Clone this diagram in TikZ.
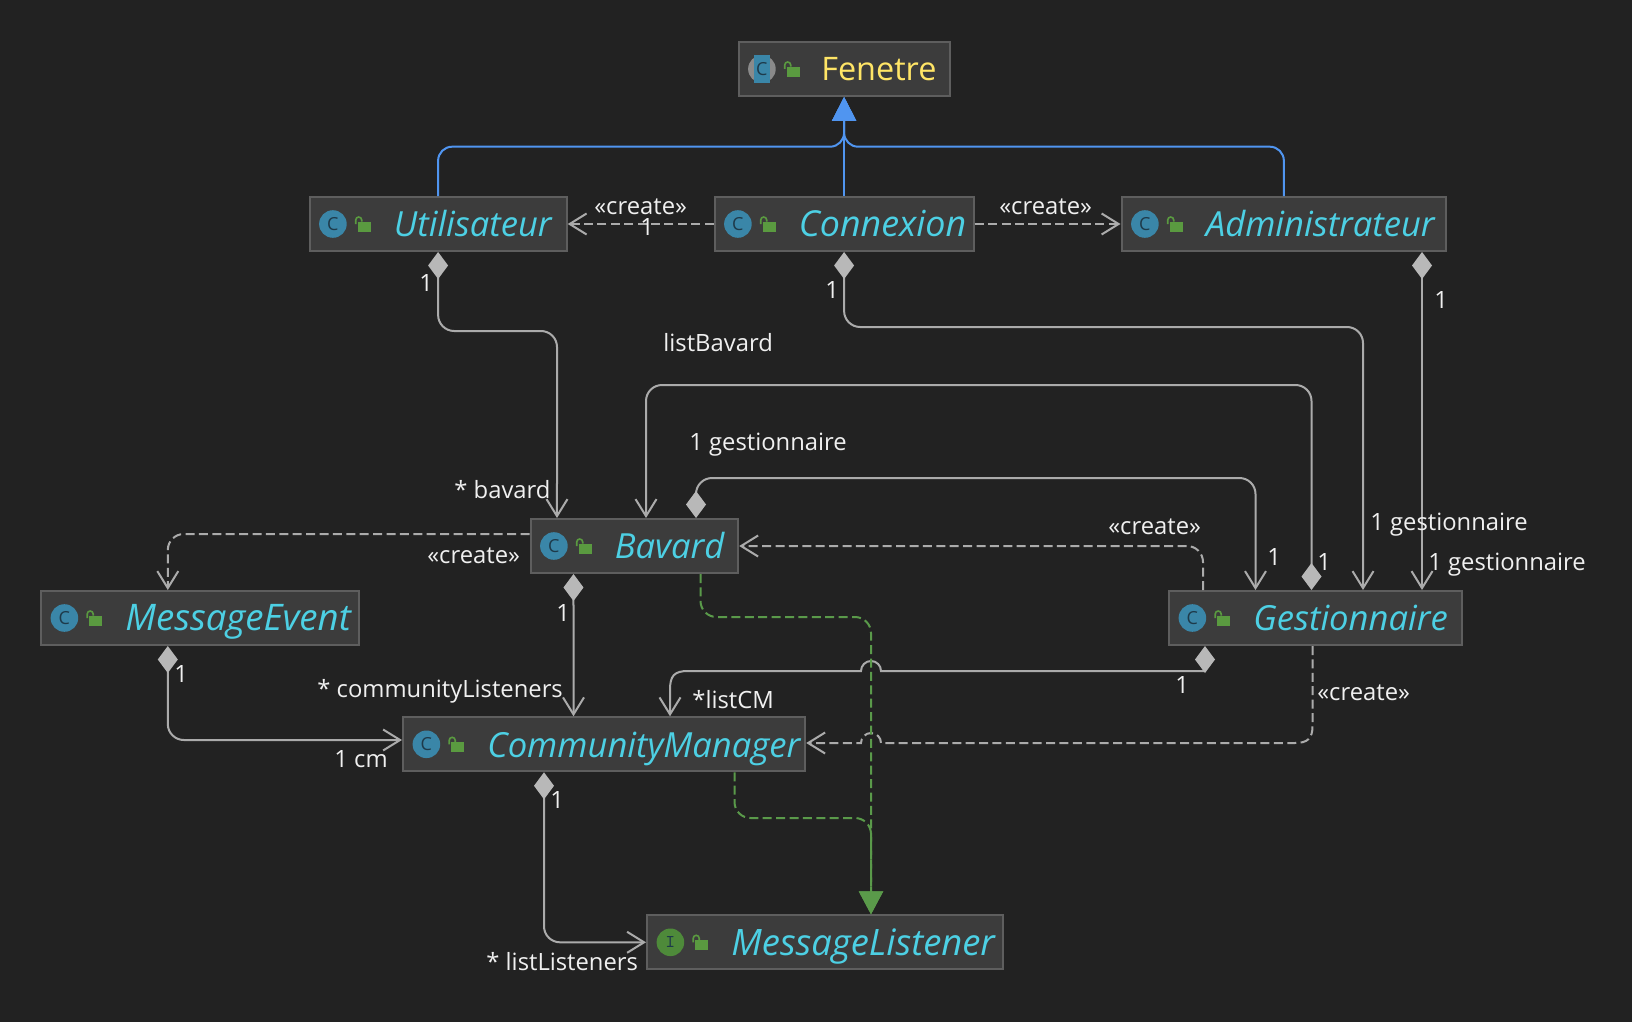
\documentclass[tikz,border=0pt]{standalone}
\usepackage{fontspec}
\setmainfont{Open Sans}
\usetikzlibrary{arrows.meta}

\definecolor{bgdark}{HTML}{222222}
\definecolor{boxfill}{HTML}{3C3C3C}
\definecolor{boxedge}{HTML}{5E5E5E}
\definecolor{namecyan}{HTML}{4DD0E4}
\definecolor{nameyellow}{HTML}{FFE566}
\definecolor{labelwhite}{HTML}{F0F0F0}
\definecolor{edgegray}{HTML}{ABABAB}
\definecolor{tipgray}{HTML}{B8B8B8}
\definecolor{edgeblue}{HTML}{5095F0}
\definecolor{edgegreen}{HTML}{5A9A4A}
\definecolor{lockgreen}{HTML}{5A9A40}
\definecolor{iconblue}{HTML}{3A86A8}
\definecolor{icongreen}{HTML}{4E8A3A}
\definecolor{icongray}{HTML}{8A8A8A}
\definecolor{icontext}{HTML}{1E3A4A}

\tikzset{
    umlbox/.style={draw=boxedge, fill=boxfill, line width=1pt, minimum height=27pt, inner sep=0pt, outer sep=0.5pt, anchor=north west},
    umlname/.style={anchor=base west, inner sep=0pt, font=\fontsize{17.3}{19}\selectfont\itshape, text=namecyan},
    umlicon/.style={circle, minimum size=13.8pt, inner sep=0pt, font=\fontsize{9}{9}\selectfont, text=icontext},
    umllabel/.style={anchor=base west, inner sep=0pt, font=\fontsize{11.9}{14}\selectfont, text=labelwhite},
    assoc/.style={draw=edgegray, line width=1pt, rounded corners=8pt},
    compedge/.style={assoc, {Diamond[length=13.5pt,width=10pt,fill=tipgray,color=tipgray]}-{Straight Barb[length=8.5pt,width=10.5pt]}},
    createedge/.style={assoc, dash pattern=on 4.5pt off 2.2pt, -{Straight Barb[length=8.5pt,width=10.5pt]}},
    implementedge/.style={draw=edgegreen, line width=1pt, rounded corners=8pt, dash pattern=on 4.5pt off 2.2pt, -{Triangle[length=11.5pt,width=12pt]}},
    extendedge/.style={draw=edgeblue, line width=1pt, rounded corners=7pt, -{Triangle[length=12pt,width=12pt]}},
}

\newcommand\umllock[1]{
    \fill[lockgreen] ([xshift=24.5pt,yshift=1.2pt]#1.west) rectangle ++(6.5pt,-5pt);
    \draw[lockgreen, line width=0.8pt] ([xshift=23.6pt,yshift=0pt]#1.west) -- ++(0,2pt) arc (180:0:1.5pt) -- ++(0,-0.8pt);
}
\newcommand\umlclass[5]{
    \node[umlbox, minimum width=#4*0.5pt-0.4pt] (#1) at (#2,#3) {};
    \node[umlicon, fill=iconblue] (#1icon) at ([xshift=12.2pt]#1.west) {C};
    \umllock{#1}
    \node[umlname] (#1name) at ([xshift=42.5pt,yshift=-6.4pt]#1.west) {#5};
}

\begin{document}
\begin{tikzpicture}[x=0.5pt,y=-0.5pt]
    \useasboundingbox (0,0) rectangle (1632,1022);
    \fill[bgdark] (0,0) rectangle (1632,1022);

    % classes
    \node[umlbox, minimum width=105.6pt] (fenetre) at (737.5,41) {};
    \node[umlicon, fill=icongray] (fenetreicon) at ([xshift=12.2pt]fenetre.west) {};
    \fill[iconblue] ([xshift=8.4pt,yshift=6.9pt]fenetre.west) rectangle ([xshift=16pt,yshift=-6.9pt]fenetre.west);
    \node[umlicon] (fenetreletter) at (fenetreicon) {C};
    \umllock{fenetre}
    \node[umlname, font=\fontsize{16.2}{18}\selectfont, text=nameyellow] (fenetrename) at ([xshift=41.7pt,yshift=-6pt]fenetre.west) {Fenetre};

    \umlclass{utilisateur}{308.5}{196}{258}{Utilisateur}
    \umlclass{connexion}{713.5}{196}{260}{{\fontsize{17.9}{19}\selectfont Connexion}}
    \umlclass{administrateur}{1120.5}{196}{325.5}{Administrateur}
    \umlclass{bavard}{529.5}{518}{208.5}{Bavard}
    \umlclass{messageevent}{40}{590}{319}{{\fontsize{18.3}{19}\selectfont MessageEvent}}
    \umlclass{gestionnaire}{1168}{590}{293.5}{Gestionnaire}
    \umlclass{communitymanager}{402}{716.3}{403}{CommunityManager}

    \node[umlbox, minimum width=178.2pt] (messagelistener) at (646,914.3) {};
    \node[umlicon, fill=icongreen, font=\fontsize{9}{9}\selectfont\ttfamily] (messagelistenericon) at ([xshift=12.2pt]messagelistener.west) {I};
    \umllock{messagelistener}
    \node[umlname, font=\fontsize{18.2}{19}\selectfont\itshape] (messagelistenername) at ([xshift=42.5pt,yshift=-6.4pt]messagelistener.west) {MessageListener};

    % heritage
    \draw[extendedge] (utilisateur.north) -- (438.1,146.7) -- (844.1,146.7) -- (fenetre.south);
    \draw[extendedge] (administrateur.north) -- (1283.85,146.7) -- (844.1,146.7) -- (fenetre.south);
    \draw[extendedge] (connexion.north) -- (fenetre.south);

    % compositions
    \draw[compedge] (utilisateur.south) -- (438.1,331) -- (557,331) -- ([xshift=-38.68pt]bavard.north);
    \draw[compedge] (connexion.south) -- (844.1,327) -- (1363,327) -- ([xshift=23.83pt]gestionnaire.north);
    \draw[compedge] ([xshift=69.08pt]administrateur.south) -- ([xshift=53.33pt]gestionnaire.north);
    \draw[compedge] ([xshift=-1.93pt]gestionnaire.north) -- (1311.5,385) -- (646,385) -- ([xshift=5.83pt]bavard.north);
    \draw[compedge] ([xshift=30.83pt]bavard.north) -- (696,478) -- (1255.5,478) -- ([xshift=-29.93pt]gestionnaire.north);
    \draw[compedge] ([xshift=-30.43pt]bavard.south) -- ([xshift=-15.3pt]communitymanager.north);
    \draw[compedge] ([xshift=-16.15pt]messageevent.south) -- (167.8,740) -- ([yshift=2.15pt]communitymanager.west);
    \draw[compedge] ([xshift=-30.05pt]communitymanager.south) -- (544,942.3) -- (messagelistener.west);
    \draw[compedge, sharp corners] ([xshift=-55.18pt]gestionnaire.south) -- (1205,671) -- (881,671) arc[start angle=0, end angle=180, radius=5pt] -- (688,671) .. controls (674,671) and (670,676) .. (670,690) -- ([xshift=32.95pt]communitymanager.north);

    % create
    \draw[createedge] (connexion.west) -- (utilisateur.east);
    \draw[createedge] (connexion.east) -- (administrateur.west);
    \draw[createedge] ([xshift=-56.18pt]gestionnaire.north) -- (1203,546) -- (bavard.east);
    \draw[createedge] ([yshift=6pt]bavard.west) -- (167.8,534) -- ([xshift=-16.15pt]messageevent.north);
    \draw[createedge, sharp corners] ([xshift=-1.43pt]gestionnaire.south) -- (1312.5,726) .. controls (1312.5,738) and (1308,743) .. (1295,743) -- (881,743) arc[start angle=0, end angle=180, radius=5pt] -- ([yshift=0.65pt]communitymanager.east);

    % interfaces
    \draw[implementedge] ([xshift=33.08pt]bavard.south) -- (700.5,617) -- (871,617) -- ([xshift=22.9pt]messagelistener.north);
    \draw[implementedge] ([xshift=65.2pt]communitymanager.south) -- (734.5,818) -- (871,818) -- ([xshift=22.9pt]messagelistener.north);

    % labels
    \node[umllabel] (labelcreateutil) at (594,214) {«create»};
    \node[umllabel] (labelonecreate) at (640,235) {1};
    \node[umllabel] (labelcreateadmin) at (999,214) {«create»};
    \node[umllabel] (labeloneutil) at (419,291) {1};
    \node[umllabel] (labeloneconn) at (825,298) {1};
    \node[umllabel] (labeloneadmin) at (1434,308) {1};
    \node[umllabel] (labellistbavard) at (663,351) {listBavard};
    \node[umllabel] (labelgestbavard) at (689,450) {1 gestionnaire};
    \node[umllabel] (labelbavard) at (454,498) {* bavard};
    \node[umllabel] (labelgestconn) at (1370,530) {1 gestionnaire};
    \node[umllabel] (labelcreatebavard) at (1108,534) {«create»};
    \node[umllabel] (labelcreateevent) at (427,563) {«create»};
    \node[umllabel] (labelonegest) at (1267,565) {1};
    \node[umllabel] (labelonelist) at (1317,570) {1};
    \node[umllabel] (labelgestadmin) at (1428,570) {1 gestionnaire};
    \node[umllabel] (labelonebavard) at (556,621) {1};
    \node[umllabel] (labelcreatecm) at (1317,700) {«create»};
    \node[umllabel] (labeloneevent) at (174,682) {1};
    \node[umllabel] (labelcomlist) at (317,697) {* communityListeners};
    \node[umllabel] (labelonecm) at (1175,693) {1};
    \node[umllabel] (labellistcm) at (692,708) {*listCM};
    \node[umllabel] (labelcm) at (334,767) {1 cm};
    \node[umllabel] (labelonelisteners) at (550,808) {1};
    \node[umllabel] (labellisteners) at (486,970) {* listListeners};
\end{tikzpicture}
\end{document}
